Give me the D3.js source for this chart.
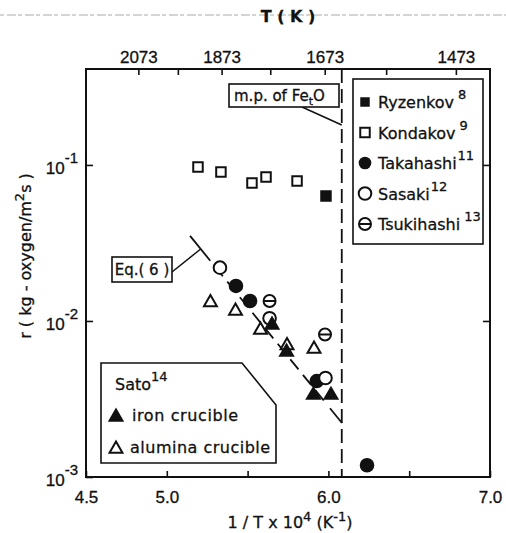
<!DOCTYPE html>
<html><head><meta charset="utf-8">
<script src="https://cdn.jsdelivr.net/npm/d3@7"></script>
<style>
body{margin:0;background:#fff}
svg{display:block}
text{font-family:"DejaVu Sans",sans-serif;fill:#111;stroke:#111;stroke-width:0.3px}
.num text, text.num{font-family:"Liberation Sans",Arial,sans-serif}
</style></head><body>
<svg id="chart" width="506" height="533"></svg>
<script>
// Oxygen absorption rate r versus reciprocal temperature
// x: 1/T x 10^4 (K^-1), y: r (kg-oxygen/m^2 s)
const ryzenkovX = [5.985];
const ryzenkovY = [0.0633];
const kondakovX = [5.193, 5.335, 5.527, 5.614, 5.806];
const kondakovY = [0.0971, 0.0902, 0.0767, 0.0838, 0.0789];
const takahashiX = [5.428, 5.515, 5.928, 6.239];
const takahashiY = [0.01677, 0.01343, 0.00412, 0.00119];
const sasakiX = [5.329, 5.636, 5.982];
const sasakiY = [0.02196, 0.01041, 0.00431];
const tsukihashiX = [5.636, 5.979];
const tsukihashiY = [0.01343, 0.00819];
const satoIronX = [5.651, 5.741, 5.907, 6.016];
const satoIronY = [0.00943, 0.00633, 0.00335, 0.00335];
const satoAluminaX = [5.270, 5.425, 5.580, 5.744, 5.911];
const satoAluminaY = [0.01314, 0.01159, 0.00876, 0.00697, 0.00662];
// Eq. (6): end points of the fitted line
const eqLineX = [5.144, 6.084];
const eqLineY = [0.0351, 0.00222];
const meltingPointT = 1644; // m.p. of FetO (K)

const xTicks = [4.5, 5.0, 5.5, 6.0, 6.5, 7.0];
const xTickLabels = ["4.5", "5.0", "", "6.0", "", "7.0"];
const tTicks = [2073, 1973, 1873, 1773, 1673, 1573, 1473];
const tTickLabels = ["2073", "", "1873", "", "1673", "", "1473"];
const yTicks = [1e-3, 1e-2, 1e-1];
const yTickExponents = ["-3", "-2", "-1"];

const svg = d3.select("#chart");
const ink = "#111";
const SW = 2;

const x = d3.scaleLinear().domain([4.5, 7.0]).range([86, 490]);
const y = d3.scaleLog().domain([1e-3, 0.412]).range([477, 69]);
const [x0, x1] = x.range();
const [yb, yt] = y.range();

// scanner streak along the top edge
svg.append("line").attr("x1", 0).attr("x2", 506).attr("y1", 15).attr("y2", 15)
  .attr("stroke", "#aaa").attr("stroke-width", 1).attr("stroke-dasharray", "4,3,9,2");

// axes
function styleAxis(g) {
  g.select(".domain").remove();
  g.selectAll(".tick line").attr("stroke", ink).attr("stroke-width", 1.6);
  g.attr("font-size", 17).classed("num", true);
  g.selectAll("text").attr("fill", ink);
}
svg.append("g").attr("transform", `translate(0,${yb})`)
  .call(d3.axisBottom(x).tickValues(xTicks).tickFormat((d, i) => xTickLabels[i])
    .tickSizeInner(-6).tickSizeOuter(0).tickPadding(14))
  .call(styleAxis);
svg.append("g").attr("transform", `translate(0,${yt})`)
  .call(d3.axisTop(x).tickValues(tTicks.map(t => 1e4 / t)).tickFormat((d, i) => tTickLabels[i])
    .tickSizeInner(-6).tickSizeOuter(0).tickPadding(6))
  .call(styleAxis);
const yAxisG = svg.append("g").attr("transform", `translate(${x0},0)`)
  .call(d3.axisLeft(y).tickValues(yTicks).tickFormat(() => "")
    .tickSizeInner(-7).tickSizeOuter(0).tickPadding(8))
  .call(styleAxis);
yAxisG.selectAll(".tick text").each(function (d, i) {
  const t = d3.select(this).attr("dy", "0.5em");
  t.append("tspan").text("10");
  t.append("tspan").attr("dy", "-0.75em").attr("font-size", 15).text(yTickExponents[i]);
});
svg.append("g").attr("transform", `translate(${x1},0)`)
  .call(d3.axisRight(y).tickValues([1e-2, 1e-1]).tickFormat(() => "")
    .tickSizeInner(-7).tickSizeOuter(0))
  .call(styleAxis);

// frame
svg.append("rect").attr("x", x0).attr("y", yt).attr("width", x1 - x0).attr("height", yb - yt)
  .attr("fill", "none").attr("stroke", ink).attr("stroke-width", 2);

// axis titles
svg.append("text").attr("x", 288).attr("y", 22).attr("text-anchor", "middle")
  .attr("font-size", 16).attr("font-weight", "bold").text("T ( K )");
const xt = svg.append("text").attr("x", 290).attr("y", 528).attr("text-anchor", "middle")
  .attr("font-size", 16);
xt.append("tspan").text("1 / T x 10");
xt.append("tspan").attr("dy", -7).attr("font-size", 13).text("4");
xt.append("tspan").attr("dy", 7).text(" (K");
xt.append("tspan").attr("dy", -7).attr("font-size", 13).text("-1");
xt.append("tspan").attr("dy", 7).text(")");
const yTitle = svg.append("text").attr("transform", "translate(31,256) rotate(-90)")
  .attr("text-anchor", "middle").attr("font-size", 16);
yTitle.append("tspan").text("r ( kg - oxygen/m");
yTitle.append("tspan").attr("dy", -7).attr("font-size", 13).text("2");
yTitle.append("tspan").attr("dy", 7).text("s )");

// melting point of FetO
const xm = x(1e4 / meltingPointT);
svg.append("line").attr("x1", xm).attr("x2", xm).attr("y1", yt).attr("y2", yb)
  .attr("stroke", ink).attr("stroke-width", 1.8).attr("stroke-dasharray", "14,6");

// Eq. (6) line: solid ends, dashed in between
const pA = [x(eqLineX[0]), y(eqLineY[0])];
const pB = [x(eqLineX[1]), y(eqLineY[1])];
const along = d3.interpolate(pA, pB);
const eqLen = Math.hypot(pB[0] - pA[0], pB[1] - pA[1]);
const seg = (a, b, dash) => svg.append("line")
  .attr("x1", along(a)[0]).attr("y1", along(a)[1]).attr("x2", along(b)[0]).attr("y2", along(b)[1])
  .attr("stroke", ink).attr("stroke-width", 1.8).attr("stroke-dasharray", dash);
const headT = 32 / eqLen, tailT = 1 - 19 / eqLen;
seg(0, headT, null);
seg(headT + 7 / eqLen, tailT - 7 / eqLen, "13,7");
seg(tailT, 1, null);

// markers
const sym = (type, size) => d3.symbol().type(type).size(size)();
function plot(xs, ys, type, size, filled) {
  svg.append("g").selectAll("path").data(xs).join("path")
    .attr("transform", (d, i) => `translate(${x(d)},${y(ys[i])})`)
    .attr("d", sym(type, size))
    .attr("fill", filled ? ink : "#fff").attr("stroke", ink).attr("stroke-width", SW);
}
function plotTheta(xs, ys) {
  const g = svg.append("g").selectAll("g").data(xs).join("g")
    .attr("transform", (d, i) => `translate(${x(d)},${y(ys[i])})`);
  g.append("circle").attr("r", 6).attr("fill", "#fff").attr("stroke", ink).attr("stroke-width", SW);
  g.append("line").attr("x1", -6).attr("x2", 6).attr("stroke", ink).attr("stroke-width", SW);
}
const SQ = 90, CI = 125, TR = 72;
plot(kondakovX, kondakovY, d3.symbolSquare, SQ, false);
plot(ryzenkovX, ryzenkovY, d3.symbolSquare, SQ, true);
plot(satoAluminaX, satoAluminaY, d3.symbolTriangle, TR, false);
plot(takahashiX, takahashiY, d3.symbolCircle, CI, true);
plot(sasakiX, sasakiY, d3.symbolCircle, CI, false);
plotTheta(tsukihashiX, tsukihashiY);
plot(satoIronX, satoIronY, d3.symbolTriangle, TR, true);

// legend of data sources
svg.append("rect").attr("x", 353).attr("y", 79).attr("width", 130).attr("height", 165)
  .attr("fill", "#fff").attr("stroke", ink).attr("stroke-width", 1.6);
const legendRows = [
  {name: "Ryzenkov", ref: "8", gap: true},
  {name: "Kondakov", ref: "9", gap: true},
  {name: "Takahashi", ref: "11", gap: false},
  {name: "Sasaki", ref: "12", gap: false},
  {name: "Tsukihashi", ref: "13", gap: true}
];
legendRows.forEach((r, i) => {
  const cy = 102 + i * 30.5;
  const mk = svg.append("g").attr("transform", `translate(365,${cy})`);
  if (i === 0) mk.append("path").attr("d", sym(d3.symbolSquare, SQ)).attr("fill", ink);
  if (i === 1) mk.append("path").attr("d", sym(d3.symbolSquare, SQ)).attr("fill", "#fff").attr("stroke", ink).attr("stroke-width", SW);
  if (i === 2) mk.append("path").attr("d", sym(d3.symbolCircle, CI)).attr("fill", ink);
  if (i === 3) mk.append("path").attr("d", sym(d3.symbolCircle, CI)).attr("fill", "#fff").attr("stroke", ink).attr("stroke-width", SW);
  if (i === 4) {
    mk.append("circle").attr("r", 6).attr("fill", "#fff").attr("stroke", ink).attr("stroke-width", SW);
    mk.append("line").attr("x1", -6).attr("x2", 6).attr("stroke", ink).attr("stroke-width", SW);
  }
  const t = svg.append("text").attr("x", 378).attr("y", cy + 6).attr("font-size", 16);
  t.append("tspan").text(r.name);
  t.append("tspan").attr("dx", r.gap ? 4 : 1).attr("dy", -9).attr("font-size", 13).text(r.ref);
});

// Sato legend (clipped corner box)
svg.append("path").attr("d", "M101,363H242L276,405V463H101Z")
  .attr("fill", "#fff").attr("stroke", ink).attr("stroke-width", 1.6);
const st = svg.append("text").attr("x", 115).attr("y", 390).attr("font-size", 16);
st.append("tspan").text("Sato");
st.append("tspan").attr("dy", -9).attr("font-size", 13).text("14");
svg.append("path").attr("transform", "translate(116,417)").attr("d", sym(d3.symbolTriangle, TR))
  .attr("fill", ink).attr("stroke", ink).attr("stroke-width", SW);
svg.append("text").attr("x", 132).attr("y", 421).attr("font-size", 16).attr("letter-spacing", 0.6).text("iron crucible");
svg.append("path").attr("transform", "translate(116,449)").attr("d", sym(d3.symbolTriangle, TR))
  .attr("fill", "#fff").attr("stroke", ink).attr("stroke-width", SW);
svg.append("text").attr("x", 130).attr("y", 453).attr("font-size", 16).attr("letter-spacing", 0.5).text("alumina crucible");

// Eq. (6) label
const lead = along(0.07);
svg.append("line").attr("x1", 172).attr("y1", 272).attr("x2", lead[0]).attr("y2", lead[1])
  .attr("stroke", ink).attr("stroke-width", 1.5);
svg.append("rect").attr("x", 112).attr("y", 257).attr("width", 60).attr("height", 25)
  .attr("fill", "#fff").attr("stroke", ink).attr("stroke-width", 1.6);
svg.append("text").attr("x", 142).attr("y", 275).attr("text-anchor", "middle").attr("font-size", 15)
  .text("Eq.( 6 )");

// melting point label
svg.append("line").attr("x1", 302).attr("y1", 107).attr("x2", xm).attr("y2", 125)
  .attr("stroke", ink).attr("stroke-width", 1.5);
svg.append("rect").attr("x", 229).attr("y", 84).attr("width", 110).attr("height", 23)
  .attr("fill", "#fff").attr("stroke", ink).attr("stroke-width", 1.6);
const mp = svg.append("text").attr("x", 234).attr("y", 101).attr("font-size", 15);
mp.append("tspan").text("m.p. of Fe");
mp.append("tspan").attr("dy", 4).attr("font-size", 11).text("t");
mp.append("tspan").attr("dy", -4).text("O");
</script>
</body></html>
